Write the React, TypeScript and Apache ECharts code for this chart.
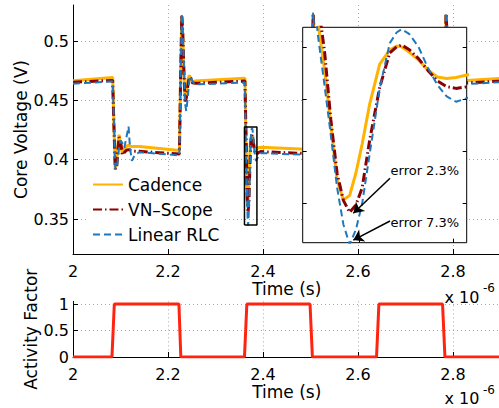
import React, { useEffect, useRef } from 'react';
import * as echarts from 'echarts';

// time in microseconds (axis shows "x 10^-6")
const timeUs = [
  2.0000, 2.0835,
  2.0860, 2.0890, 2.0920, 2.0950, 2.0970, 2.1000, 2.1040, 2.1080, 2.1130, 2.1170, 2.1200, 2.1240, 2.1300, 2.1400,
  2.2240,
  2.2265, 2.2290, 2.2310, 2.2335, 2.2360, 2.2385, 2.2420, 2.2450, 2.2480, 2.2510, 2.2560, 2.2650,
  2.3620,
  2.3634, 2.3645, 2.3655, 2.3665, 2.3675, 2.3685, 2.3695, 2.3705, 2.3717, 2.3733, 2.3749, 2.3760, 2.3768, 2.3780, 2.3795, 2.3810, 2.3825, 2.3840, 2.3855, 2.3872, 2.3900, 2.3950,
  2.5015,
  2.5030, 2.5055, 2.5075, 2.5100, 2.5125, 2.5150, 2.5185, 2.5215, 2.5245, 2.5275, 2.5325, 2.5415,
  2.6405,
  2.6425, 2.6445, 2.6465, 2.6485, 2.6505, 2.6530, 2.6560, 2.6600, 2.6650, 2.6750,
  2.7795,
  2.7828, 2.7853, 2.7873, 2.7898, 2.7923, 2.7948, 2.7983, 2.8013, 2.8043, 2.8073, 2.8123, 2.8213,
  2.9000,
];

const cadence = [
  0.4665, 0.4693,
  0.4320, 0.3930, 0.3980, 0.4150, 0.4210, 0.4130, 0.4050, 0.4090, 0.4115, 0.4120, 0.4115, 0.4110, 0.4112, 0.4110,
  0.4078,
  0.4700, 0.5210, 0.5050, 0.4720, 0.4500, 0.4570, 0.4680, 0.4712, 0.4680, 0.4655, 0.4662, 0.4665,
  0.4686,
  0.4300, 0.4112, 0.3900, 0.3690, 0.3614, 0.3631, 0.3717, 0.3828, 0.3981, 0.4134, 0.4188, 0.4203, 0.4200, 0.4180, 0.4150, 0.4112, 0.4085, 0.4079, 0.4083, 0.4092, 0.4100, 0.4105,
  0.4085,
  0.4500, 0.5220, 0.5060, 0.4720, 0.4500, 0.4570, 0.4680, 0.4712, 0.4680, 0.4655, 0.4662, 0.4665,
  0.4688,
  0.4400, 0.3920, 0.3620, 0.3680, 0.3920, 0.4140, 0.4190, 0.4100, 0.4090, 0.4105,
  0.4082,
  0.4600, 0.5220, 0.5060, 0.4720, 0.4500, 0.4570, 0.4680, 0.4712, 0.4680, 0.4655, 0.4662, 0.4665,
  0.4684,
];

const vnScope = [
  0.4652, 0.4668,
  0.4300, 0.3920, 0.3940, 0.4100, 0.4190, 0.4160, 0.4040, 0.4060, 0.4080, 0.4085, 0.4080, 0.4075, 0.4072, 0.4070,
  0.4048,
  0.4670, 0.5220, 0.5080, 0.4740, 0.4490, 0.4520, 0.4630, 0.4695, 0.4685, 0.4648, 0.4645, 0.4645,
  0.4662,
  0.4380, 0.4180, 0.3920, 0.3715, 0.3612, 0.3566, 0.3595, 0.3660, 0.3843, 0.4045, 0.4177, 0.4200, 0.4207, 0.4190, 0.4155, 0.4110, 0.4070, 0.4048, 0.4041, 0.4047, 0.4060, 0.4068,
  0.4050,
  0.4450, 0.5230, 0.5090, 0.4740, 0.4490, 0.4520, 0.4630, 0.4695, 0.4685, 0.4648, 0.4645, 0.4645,
  0.4663,
  0.4450, 0.3980, 0.3600, 0.3580, 0.3840, 0.4100, 0.4200, 0.4070, 0.4045, 0.4060,
  0.4049,
  0.4550, 0.5230, 0.5090, 0.4740, 0.4490, 0.4520, 0.4630, 0.4695, 0.4685, 0.4648, 0.4645, 0.4645,
  0.4662,
];

const linearRLC = [
  0.4640, 0.4660,
  0.4340, 0.3920, 0.3930, 0.4020, 0.4100, 0.4160, 0.4140, 0.4100, 0.4200, 0.4280, 0.4100, 0.3990, 0.4040, 0.4063,
  0.4036,
  0.4650, 0.5230, 0.5120, 0.4800, 0.4470, 0.4410, 0.4540, 0.4680, 0.4705, 0.4665, 0.4635, 0.4635,
  0.4650,
  0.4250, 0.4050, 0.3860, 0.3660, 0.3520, 0.3443, 0.3500, 0.3600, 0.3790, 0.4040, 0.4214, 0.4255, 0.4268, 0.4250, 0.4200, 0.4120, 0.4055, 0.4010, 0.3990, 0.4003, 0.4030, 0.4055,
  0.4040,
  0.4450, 0.5240, 0.5130, 0.4800, 0.4470, 0.4410, 0.4540, 0.4680, 0.4705, 0.4665, 0.4635, 0.4635,
  0.4652,
  0.4360, 0.3880, 0.3500, 0.3470, 0.3760, 0.4150, 0.4260, 0.4040, 0.3990, 0.4050,
  0.4038,
  0.4550, 0.5240, 0.5130, 0.4800, 0.4470, 0.4410, 0.4540, 0.4680, 0.4705, 0.4665, 0.4635, 0.4635,
  0.4653,
];

const activityTime = [2.0, 2.082, 2.087, 2.223, 2.227, 2.361, 2.366, 2.499, 2.504, 2.639, 2.644, 2.778, 2.783, 2.9];
const activityFactor = [0, 0, 1, 1, 0, 0, 1, 1, 0, 0, 1, 1, 0, 0];

const xTicks = [2, 2.2, 2.4, 2.6, 2.8];
const voltageTicks = [0.35, 0.4, 0.45, 0.5];
const activityTicks = [0, 0.5, 1];

const insetXRange = [2.361, 2.3872];
const insetYRange = [0.345, 0.4275];
const insetXTicks = [2.37, 2.385];
const insetYTicks = [0.36, 0.38, 0.4, 0.42];

const errorNotes = [
  { label: 'error 2.3%', text: [2.37495, 0.3726], from: [2.37495, 0.3697], to: [2.36909, 0.3563] },
  { label: 'error 7.3%', text: [2.37495, 0.3529], from: [2.37495, 0.3533], to: [2.36909, 0.3460] },
];

const FONT = 'DejaVu Sans';
const fmt = (v: number) => String(parseFloat(Number(v).toFixed(4)));

const zip = (xs: number[], ys: number[]) => xs.map((x, i) => [x, ys[i]]);

const COLORS = {
  cadence: '#FFB300',
  vn: '#8B0000',
  rlc: '#1F78BE',
  act: '#FF2410',
};

export default function App() {
  const ref = useRef<HTMLDivElement>(null);
  useEffect(() => {
    if (!ref.current) return;
    const chart = echarts.init(ref.current, undefined, { renderer: 'svg' });

    const gridLine = { show: true, lineStyle: { color: '#a8a8a8', width: 1, type: [1, 3] as any } };
    const mainXAxis = (gridIndex: number, nameGap: number) => ({
      type: 'value',
      gridIndex,
      min: 2,
      max: 2.9,
      axisLine: { show: true, onZero: false, lineStyle: { color: '#000', width: 1 } },
      axisTick: { show: true, inside: true, length: 5, customValues: xTicks, lineStyle: { color: '#000' } },
      axisLabel: { show: true, customValues: xTicks, formatter: fmt, color: '#000', fontSize: 16, fontFamily: FONT, margin: 9 },
      splitLine: gridLine,
      name: 'Time (s)',
      nameLocation: 'middle',
      nameGap,
      nameMoveOverlap: false,
      nameTextStyle: { fontSize: 17, color: '#000', fontFamily: FONT },
    });

    const lineSeries = (name: string, ys: number[], color: string, width: number, type: any, xi: number, yi: number, z: number) => ({
      type: 'line',
      name,
      xAxisIndex: xi,
      yAxisIndex: yi,
      data: zip(timeUs, ys),
      symbol: 'none',
      showSymbol: false,
      z,
      clip: true,
      lineStyle: { color, width, type },
      itemStyle: { color },
      emphasis: { disabled: true },
      silent: true,
    });

    const boxData = [
      [insetXRange[0], insetYRange[0]],
      [insetXRange[1], insetYRange[0]],
      [insetXRange[1], insetYRange[1]],
      [insetXRange[0], insetYRange[1]],
      [insetXRange[0], insetYRange[0]],
    ];

    const option: any = {
      animation: false,
      textStyle: { fontFamily: FONT },
      grid: [
        { left: 73, top: 5, width: 427.5, height: 249, outerBoundsMode: 'none', containLabel: false },
        { left: 73, top: 301.4, width: 427.5, height: 55.6, outerBoundsMode: 'none', containLabel: false },
        {
          left: 302.7, top: 27.3, width: 164, height: 215.4, outerBoundsMode: 'none', containLabel: false,
          show: true, backgroundColor: '#fff', borderColor: '#000', borderWidth: 1, z: 3,
        },
      ],
      legend: {
        data: ['Cadence', 'VN–Scope', 'Linear RLC'],
        orient: 'vertical',
        left: 88,
        top: 173,
        itemWidth: 30,
        itemHeight: 12,
        itemGap: 8,
        padding: [3, 4, 3, 4],
        backgroundColor: '#fff',
        selectedMode: false,
        itemStyle: { color: 'rgba(0,0,0,0)', borderWidth: 0, opacity: 0 },
        textStyle: { fontSize: 17, color: '#000', fontFamily: FONT },
        z: 6,
      },
      xAxis: [
        mainXAxis(0, 26),
        mainXAxis(1, 26),
        {
          type: 'value', gridIndex: 2, min: insetXRange[0], max: insetXRange[1], z: 5,
          axisLine: { show: false },
          axisTick: { show: true, inside: true, length: 4, customValues: insetXTicks, lineStyle: { color: '#000' } },
          axisLabel: { show: false, customValues: insetXTicks },
          splitLine: { show: false },
        },
      ],
      yAxis: [
        {
          type: 'value', gridIndex: 0, min: 0.32051, max: 0.53034,
          axisLine: { show: true, onZero: false, lineStyle: { color: '#000', width: 1 } },
          axisTick: { show: true, inside: true, length: 5, customValues: voltageTicks, lineStyle: { color: '#000' } },
          axisLabel: { show: true, customValues: voltageTicks, formatter: fmt, color: '#000', fontSize: 16, fontFamily: FONT, margin: 4 },
          splitLine: gridLine,
          name: 'Core Voltage (V)', nameLocation: 'middle', nameGap: 44, nameRotate: 90, nameMoveOverlap: false,
          nameTextStyle: { fontSize: 17, color: '#000', fontFamily: FONT },
        },
        {
          type: 'value', gridIndex: 1, min: 0, max: 1.05,
          axisLine: { show: true, onZero: false, lineStyle: { color: '#000', width: 1 } },
          axisTick: { show: true, inside: true, length: 5, customValues: activityTicks, lineStyle: { color: '#000' } },
          axisLabel: { show: true, customValues: activityTicks, formatter: fmt, color: '#000', fontSize: 16, fontFamily: FONT, margin: 4 },
          splitLine: gridLine,
          name: 'Activity Factor', nameLocation: 'middle', nameGap: 34, nameRotate: 90, nameMoveOverlap: false,
          nameTextStyle: { fontSize: 17, color: '#000', fontFamily: FONT },
        },
        {
          type: 'value', gridIndex: 2, min: insetYRange[0], max: insetYRange[1], position: 'left', z: 5,
          axisLine: { show: false },
          axisTick: { show: true, inside: true, length: 4, customValues: insetYTicks, lineStyle: { color: '#000' } },
          axisLabel: { show: false, customValues: insetYTicks },
          splitLine: { show: false },
        },
        {
          type: 'value', gridIndex: 2, min: insetYRange[0], max: insetYRange[1], position: 'right', z: 5,
          axisLine: { show: false },
          axisTick: { show: true, inside: true, length: 4, customValues: insetYTicks, lineStyle: { color: '#000' } },
          axisLabel: { show: false, customValues: insetYTicks },
          splitLine: { show: false },
        },
      ],
      series: [
        lineSeries('Cadence', cadence, COLORS.cadence, 3, 'solid', 0, 0, 2),
        lineSeries('VN–Scope', vnScope, COLORS.vn, 3, [9, 3, 1.5, 3], 0, 0, 2),
        lineSeries('Linear RLC', linearRLC, COLORS.rlc, 2, [7, 4], 0, 0, 2),
        {
          type: 'line', name: 'zoom box', xAxisIndex: 0, yAxisIndex: 0, data: boxData,
          symbol: 'none', z: 2, lineStyle: { color: '#000', width: 1.5 }, silent: true,
        },
        {
          type: 'line', name: 'Activity', xAxisIndex: 1, yAxisIndex: 1,
          data: zip(activityTime, activityFactor), symbol: 'none', z: 2,
          lineStyle: { color: COLORS.act, width: 3 }, silent: true,
        },
        lineSeries('Cadence', cadence, COLORS.cadence, 3, 'solid', 2, 2, 4),
        lineSeries('VN–Scope', vnScope, COLORS.vn, 3, [9, 3, 1.5, 3], 2, 2, 4),
        {
          ...lineSeries('Linear RLC', linearRLC, COLORS.rlc, 2, [7, 4], 2, 2, 4),
          markLine: {
            silent: true,
            symbol: ['none', 'arrow'],
            symbolSize: 10,
            label: { show: false },
            lineStyle: { color: '#000', width: 1.5, type: 'solid' },
            emphasis: { disabled: true },
            data: errorNotes.map((n) => [{ coord: n.from }, { coord: n.to }]),
          },
          markPoint: {
            silent: true,
            symbol: 'circle',
            symbolSize: 1,
            itemStyle: { color: 'rgba(0,0,0,0)' },
            label: {
              show: true, position: 'right', distance: 0, color: '#000', fontSize: 13, fontFamily: FONT,
              formatter: (p: any) => p.name,
            },
            data: errorNotes.map((n) => ({ name: n.label, coord: n.text })),
          },
        },
      ],
      graphic: [
        { type: 'text', x: 444.5, y: 297.5, style: { text: 'x 10', fontSize: 16, lineHeight: 14, fontFamily: FONT, fill: '#000', align: 'left', verticalAlign: 'middle' } },
        { type: 'text', x: 483, y: 287.5, style: { text: '-6', fontSize: 12, lineHeight: 11, fontFamily: FONT, fill: '#000', align: 'left', verticalAlign: 'middle' } },
        { type: 'text', x: 444.5, y: 398.5, style: { text: 'x 10', fontSize: 16, lineHeight: 14, fontFamily: FONT, fill: '#000', align: 'left', verticalAlign: 'middle' } },
        { type: 'text', x: 483, y: 389.5, style: { text: '-6', fontSize: 12, lineHeight: 11, fontFamily: FONT, fill: '#000', align: 'left', verticalAlign: 'middle' } },
      ],
    };

    chart.setOption(option);
    return () => chart.dispose();
  }, []);

  return (
    <div
      ref={ref}
      style={{ position: 'absolute', left: 0, top: 0, width: 499, height: 408, background: '#fff' }}
    />
  );
}
